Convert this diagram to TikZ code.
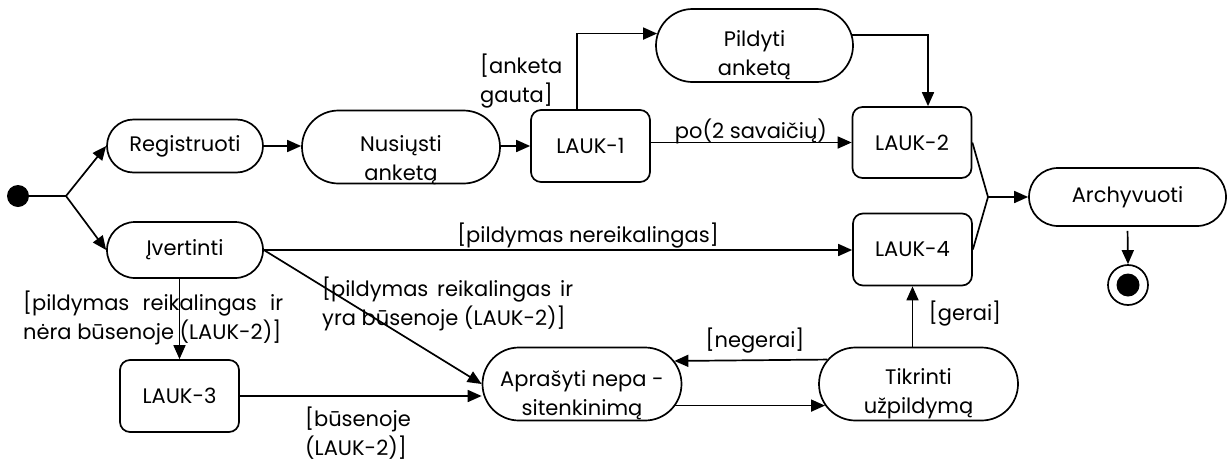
\documentclass[tikz,border=0pt]{standalone}
\usepackage{fontspec}
\setmainfont{Poppins}
\usetikzlibrary{arrows.meta,shapes.misc,calc}

\tikzset{
  every node/.style={font=\fontsize{21}{29}\selectfont},
  pill/.style 2 args={rounded rectangle, draw, line width=1.7pt, inner sep=0pt,
    minimum width=#1, minimum height=#2},
  waitbox/.style={rectangle, rounded corners=10pt, draw, line width=1.7pt, inner sep=0pt,
    minimum width=119pt, minimum height=72pt},
  caption/.style={align=center, inner sep=0pt},
  guard/.style={align=left, inner sep=0pt},
  wire/.style={line width=1.7pt},
  flow/.style={line width=1.7pt, -{Triangle[length=14pt,width=12pt]}},
}

\begin{document}
\begin{tikzpicture}[x=1pt,y=-1pt]
\useasboundingbox (0,0) rectangle (1228,461);

% initial and final states
\node[circle, fill, inner sep=0pt, minimum size=22pt] (start) at (18,196) {};
\coordinate (split) at (66,196);
\node[circle, draw, line width=1.7pt, inner sep=0pt, minimum size=40pt] (endring) at (1128,285) {};
\node[circle, fill, inner sep=0pt, minimum size=23pt] (enddot) at (endring.center) {};

% activity states
\node[pill={156pt}{53pt}] (reg) at (185,146) {Registruoti};
\node[pill={156pt}{56pt}] (ivert) at (185,250) {Įvertinti};
\node[pill={198pt}{73pt}] (nus) at (401,147) {};
\node[caption] (nustxt) at ([yshift=-13pt]nus.center) {Nusiųsti\\anketą};
\node[pill={197pt}{73pt}] (pil) at (754.5,45.5) {};
\node[caption] (piltxt) at ([yshift=-10pt]pil.center) {Pildyti\\anketą};
\node[pill={197pt}{58pt}] (arch) at (1127.5,197) {Archyvuoti};
\node[pill={199pt}{73pt}] (apr) at (582,384) {};
\node[caption] (aprtxt) at ([yshift=-11pt]apr.center) {Aprašyti nepa -\\sitenkinimą};
\node[pill={199pt}{73pt}] (tik) at (918.5,384) {};
\node[caption] (tiktxt) at ([yshift=-10pt]tik.center) {Tikrinti\\užpildymą};

% wait states
\node[waitbox] (l1) at (590.5,146) {LAUK-1};
\node[waitbox, minimum height=71pt] (l2) at (912,142.5) {LAUK-2};
\node[waitbox] (l4) at (912.5,249.5) {LAUK-4};
\node[waitbox] (l3) at (179.5,396) {LAUK-3};

% junction in front of archiving
\coordinate (join) at (988,197);

% transitions
\draw[wire] (start) -- (split);
\draw[flow] (split) -- (reg.west);
\draw[flow] (split) -- (ivert.west);
\draw[flow] (reg.east) -- (reg.east -| nus.west);
\draw[flow] (nus.east |- l1.west) -- (l1.west);
\draw[flow] ([xshift=-13.5pt]l1.north) |- (pil.173.82);
\draw[flow] (pil.6.18) -| ([xshift=16pt]l2.north);
\draw[flow] (l1.east |- l2.west) -- (l2.west);
\draw[wire] (l2.east) -- (join) -- (l4.east);
\draw[flow] (join) -- (arch.west);
\draw[flow, shorten <=4pt] (arch.south) -- (endring.north);
\draw[flow] (ivert.east) -- (ivert.east -| l4.west);
\draw[flow] (ivert.east) -- (apr.west);
\draw[flow] (ivert.south -| l3.north) -- (l3.north);
\draw[flow] (l3.east) -- (l3.east -| apr.west);
\draw[flow] (tik.165.15) -- (apr.14.85);
\draw[flow] (apr.-13.4) -- (tik.193.4);
\draw[flow] (tik.north -| l4.south) -- (l4.south);

% guards and events
\node[guard, anchor=west] (gauta) at (480,81) {[anketa\\gauta]};
\node[guard] (po) at (751,131) {po(2 savaičių)};
\node[guard] (nereik) at (588,236) {[pildymas nereikalingas]};
\node[guard, anchor=west] (nera) at (23,318) {\makebox[260pt][s]{[pildymas reikalingas ir}\\nėra būsenoje (LAUK-2)]};
\node[guard, anchor=west] (yra) at (322,304) {\makebox[251pt][s]{[pildymas reikalingas ir}\\yra būsenoje (LAUK-2)]};
\node[guard, anchor=west] (busen) at (305,433) {[būsenoje\\(LAUK-2)]};
\node[guard] (neger) at (755,341) {[negerai]};
\node[guard] (ger) at (965,314) {[gerai]};
\end{tikzpicture}
\end{document}
